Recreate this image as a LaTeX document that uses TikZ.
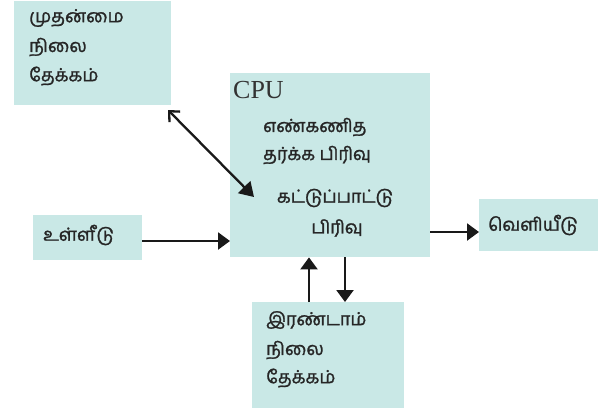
\documentclass[tikz,border=0pt]{standalone}
\usepackage{fontspec}
\setmainfont{Liberation Serif}
\newfontfamily\tamil[Script=Tamil,FakeBold=1.4]{Hind Madurai}
\usetikzlibrary{arrows.meta}
\definecolor{boxfill}{HTML}{C9E8E6}
\begin{document}
\begin{tikzpicture}[x=1pt,y=-1pt,
  blk/.style={fill=boxfill,draw=none,inner sep=0pt,anchor=north west},
  lbl/.style={inner sep=0pt,anchor=west,font=\tamil\fontsize{18}{20}\selectfont,text=black!85},
  lblc/.style={inner sep=0pt,anchor=center,font=\tamil\fontsize{18}{20}\selectfont,text=black!85},
  conn/.style={line width=2.3pt,draw=black!90},
  tip/.style={-{Triangle[length=12pt,width=17pt]}}]
\useasboundingbox (0,0) rectangle (598,408);
% boxes
\node[blk,minimum width=157pt,minimum height=104pt] (prim) at (14,1) {};
\node[blk,minimum width=200pt,minimum height=184pt] (cpu) at (230,73) {};
\node[blk,minimum width=119pt,minimum height=52pt] (out) at (479,199) {};
\node[blk,minimum width=109pt,minimum height=45pt] (inp) at (33,215) {};
\node[blk,minimum width=152pt,minimum height=106pt] (sec) at (252,302) {};
% texts
\node[lbl] (p1) at (29,18) {முதன்மை};
\node[lbl] (p2) at (29,47) {நிலை};
\node[lbl] (p3) at (29,76) {தேக்கம்};
\node[inner sep=0pt,anchor=west,font=\fontsize{26}{28}\selectfont,text=black!80] (cputxt) at (233,90) {CPU};
\node[lbl] (c1) at (263,127) {எண்கணித};
\node[lbl] (c2) at (263,155) {தர்க்க பிரிவு};
\node[lblc] (c3) at (335,198) {கட்டுப்பாட்டு};
\node[lblc] (c4) at (337,228) {பிரிவு};
\node[lbl] (o1) at (488,225) {வெளியீடு};
\node[lbl] (i1) at (43,235) {உள்ளீடு};
\node[lbl] (s1) at (266,320) {இரண்டாம்};
\node[lbl] (s2) at (266,350) {நிலை};
\node[lbl] (s3) at (266,378) {தேக்கம்};
% connectors
\coordinate (dA) at (168,110);
\coordinate (dB) at (254,197);
\draw[conn,{Straight Barb[length=8pt,width=15pt]}-{Triangle[length=14pt,width=17pt]}] (dA) -- (dB);
\draw[conn,tip] (inp.east |- 0,241) -- (cpu.west |- 0,241);
\draw[conn,tip] (cpu.east |- 0,232) -- (out.west |- 0,232);
\draw[conn,tip] (sec.north -| 309,0) -- (cpu.south -| 309,0);
\draw[conn,tip] (cpu.south -| 345,0) -- (sec.north -| 345,0);
\end{tikzpicture}
\end{document}
